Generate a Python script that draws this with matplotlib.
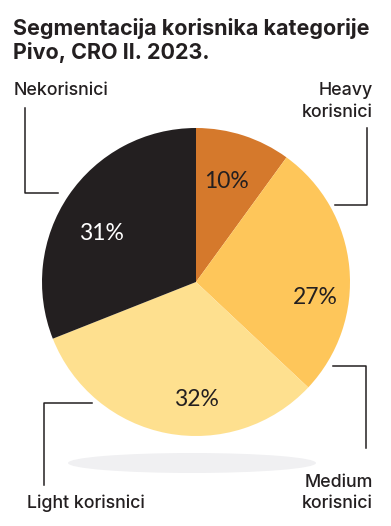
import matplotlib
matplotlib.use("Agg")
import matplotlib.pyplot as plt
from matplotlib.patches import Ellipse

# podaci
segments = ["Heavy korisnici", "Medium korisnici", "Light korisnici", "Nekorisnici"]
shares = [10, 27, 32, 31]
colors = ["#D5792C", "#FEC65A", "#FEE08F", "#231F20"]
pct_colors = ["#231F20", "#231F20", "#231F20", "#FFFFFF"]
title_lines = ["Segmentacija korisnika kategorije", "Pivo, CRO II. 2023."]

W, H = 391, 526
FONT = ["Inter", "DejaVu Sans"]
PCT_FONT = ["Lato", "DejaVu Sans"]


def py(y):
    # pikselna y koordinata (odozgo) -> podatkovna (odozdo)
    return H - y


fig = plt.figure(figsize=(W / 100, H / 100), dpi=100)
ax = fig.add_axes([0, 0, 1, 1])

# sjena ispod kruga
ax.add_patch(Ellipse((192, py(463)), 248, 20, color="#F0F0F2", lw=0, zorder=0))

cx, cy, r = 196, py(282), 154
ax.pie(shares, colors=colors, startangle=90, counterclock=False,
       center=(cx, cy), radius=r, wedgeprops=dict(lw=0))

# postoci u isjeccima
pct_pos = [(226, 181), (315, 297), (196, 400), (101, 234)]
for v, (x, y), c in zip(shares, pct_pos, pct_colors):
    ax.text(x, py(y), f"{v}%", ha="center", va="center", color=c,
            fontsize=16.5, family=PCT_FONT)

# oznake i linije (svaki redak posebno, poravnato po baseline)
lc = "#231F20"
lab = dict(fontsize=12.8, family=FONT, color=lc, fontweight="medium", va="baseline")
ax.text(14, py(95), "Nekorisnici", ha="left", **lab)
ax.plot([25, 25, 58], [py(108), py(193), py(193)], c=lc, lw=1.1)

ax.text(373, py(95), "Heavy", ha="right", **lab)
ax.text(373, py(117), "korisnici", ha="right", **lab)
ax.plot([367, 367, 335], [py(128), py(205), py(205)], c=lc, lw=1.1)

ax.text(373, py(487), "Medium", ha="right", **lab)
ax.text(373, py(508), "korisnici", ha="right", **lab)
ax.plot([333, 366, 366], [py(366), py(366), py(448)], c=lc, lw=1.1)

ax.text(27, py(508), "Light korisnici", ha="left", **lab)
ax.plot([92, 44, 44], [py(403), py(403), py(485)], c=lc, lw=1.1)

for line, yb in zip(title_lines, [35, 59]):
    ax.text(13, py(yb), line, ha="left", va="baseline", fontsize=15.5,
            fontweight="bold", family=FONT, color=lc)

ax.set_xlim(0, W)
ax.set_ylim(0, H)
ax.set_aspect("equal")
ax.axis("off")
fig.savefig("out.png", dpi=100, facecolor="white")
